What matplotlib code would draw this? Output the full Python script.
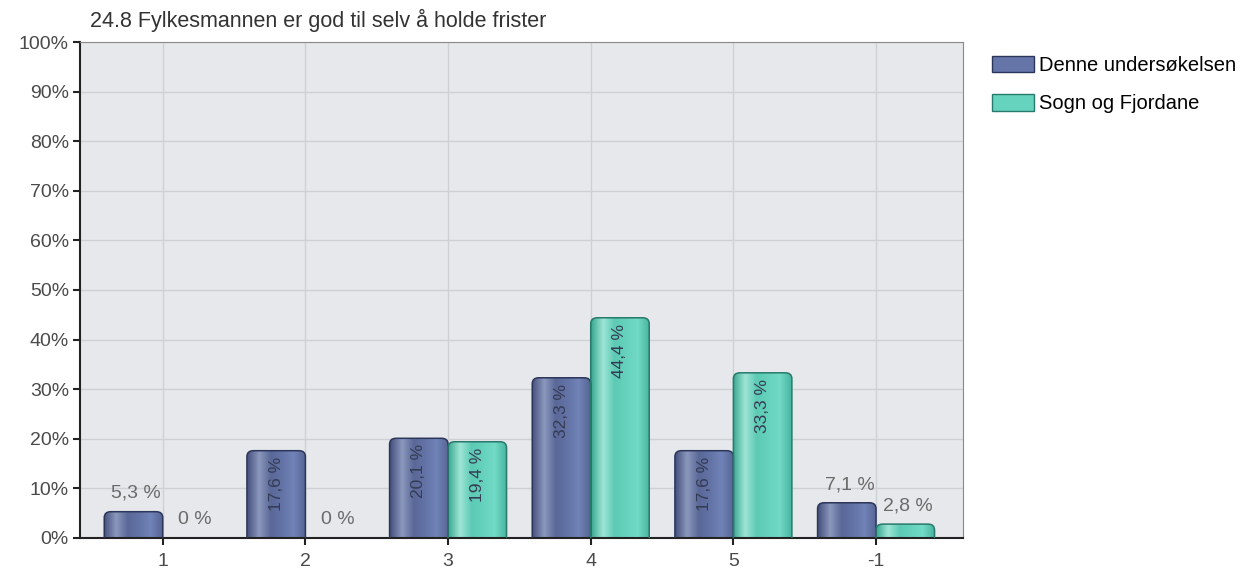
import numpy as np
import matplotlib.pyplot as plt
from matplotlib.colors import LinearSegmentedColormap
from matplotlib.patches import Patch, FancyBboxPatch

plt.rcParams['font.family'] = ['Liberation Sans', 'DejaVu Sans']

title = "24.8 Fylkesmannen er god til selv å holde frister"
categories = ["1", "2", "3", "4", "5", "-1"]
denne = [5.3, 17.6, 20.1, 32.3, 17.6, 7.1]
sogn = [0.0, 0.0, 19.4, 44.4, 33.3, 2.8]
series_names = ["Denne undersøkelsen", "Sogn og Fjordane"]

blue_cmap = LinearSegmentedColormap.from_list(
    "b", ["#46527e", "#8c98bd", "#5a6898", "#6373a6", "#7183b8", "#566493"])
green_cmap = LinearSegmentedColormap.from_list(
    "g", ["#3aa891", "#9fe6d6", "#5ccab4", "#66d2bd", "#72dac6", "#48b59f"])


def fmt(v):
    s = ("%.1f" % v).replace(".", ",")
    if s.endswith(",0"):
        s = s[:-2]
    return s + " %"


fig = plt.figure(figsize=(12.54, 5.73), dpi=100)
ax = fig.add_axes([0.0638, 0.0611, 0.7042, 0.8656])
ax.set_facecolor("#e6e8eb")

x = np.arange(len(categories))
w = 0.41
b1 = ax.bar(x - w / 2, denne, w, facecolor="none", edgecolor="none", zorder=3)
b2 = ax.bar(x + w / 2, sogn, w, facecolor="none", edgecolor="none", zorder=3)

ax.set_xlim(-0.58, 5.61)
ax.set_ylim(0, 100)

# cylinder look: gradient image clipped to a bar with rounded top
grad = np.linspace(0, 1, 64).reshape(1, -1)
for bars, cmap, ec in [(b1, blue_cmap, "#2c365a"), (b2, green_cmap, "#277a6b")]:
    for p in bars:
        h = p.get_height()
        if h <= 0:
            continue
        x0 = p.get_x()
        bw = p.get_width()
        shape = FancyBboxPatch((x0, -3), bw, h + 3,
                               boxstyle="round,pad=0,rounding_size=0.045",
                               mutation_aspect=27, facecolor="none", edgecolor=ec,
                               linewidth=1.1, zorder=3)
        ax.add_patch(shape)
        im = ax.imshow(grad, extent=[x0, x0 + bw, 0, h], aspect="auto",
                       cmap=cmap, zorder=2.5, interpolation="bicubic")
        im.set_clip_path(shape)

for bars, vals in [(b1, denne), (b2, sogn)]:
    for p, v in zip(bars, vals):
        cx = p.get_x() + p.get_width() / 2
        if v >= 15:
            ax.text(cx, v - 1.2, fmt(v), rotation=90, ha="center", va="top",
                    fontsize=12.5, color="#353b52", zorder=4)
        else:
            ax.annotate(fmt(v), (cx, v), xytext=(2, 7), textcoords="offset points",
                        ha="center", va="bottom", fontsize=14, color="#6a6a6a", zorder=4)

ax.set_xlim(-0.58, 5.61)
ax.set_ylim(0, 100)
ax.set_xticks(x)
ax.set_xticklabels(categories, fontsize=14, color="#4a4a4a")
ax.set_yticks(np.arange(0, 101, 10))
ax.set_yticklabels(["%d%%" % t for t in range(0, 101, 10)], fontsize=14, color="#4a4a4a")
ax.grid(True, color="#cdd0d4", linewidth=1.0, zorder=0)
ax.set_axisbelow(True)

ax.spines["left"].set_color("#222222")
ax.spines["left"].set_linewidth(1.5)
ax.spines["bottom"].set_color("#222222")
ax.spines["bottom"].set_linewidth(1.5)
ax.spines["top"].set_color("#8a8a8a")
ax.spines["right"].set_color("#8a8a8a")
ax.tick_params(axis="both", length=5, width=1.5, color="#222222")
ax.tick_params(axis="x", pad=6)
ax.tick_params(axis="y", pad=3)

fig.text(0.0718, 0.965, title, fontsize=15.5, color="#333333", va="center", ha="left")

handles = [Patch(facecolor="#6575a8", edgecolor="#2c365a"),
           Patch(facecolor="#66d3be", edgecolor="#277a6b")]
fig.legend(handles, series_names, loc="upper left", bbox_to_anchor=(0.791, 0.903),
           frameon=False, fontsize=14.5, handlelength=2.1, handleheight=0.9,
           handletextpad=0.25, labelspacing=0.95, borderaxespad=0, borderpad=0)

fig.savefig("out.png", dpi=100)
